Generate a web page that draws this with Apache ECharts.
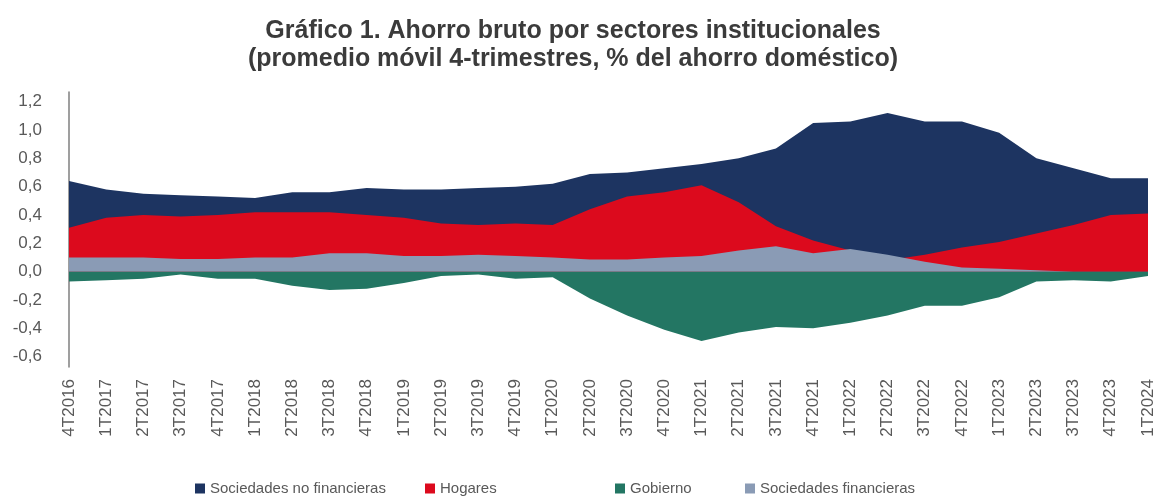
<!DOCTYPE html>
<html>
<head>
<meta charset="utf-8">
<script src="https://cdn.jsdelivr.net/npm/echarts@6/dist/echarts.min.js"></script>
<style>
  html, body { margin: 0; padding: 0; background: #fff; }
  #chart { width: 1157px; height: 498px; }
</style>
</head>
<body>
<div id="chart"></div>
<script>
// trimestres 4T2016 .. 1T2024
const quarters = ['4T2016','1T2017','2T2017','3T2017','4T2017','1T2018','2T2018','3T2018','4T2018',
  '1T2019','2T2019','3T2019','4T2019','1T2020','2T2020','3T2020','4T2020','1T2021','2T2021','3T2021',
  '4T2021','1T2022','2T2022','3T2022','4T2022','1T2023','2T2023','3T2023','4T2023','1T2024'];

const noFinancieras = [0.64,0.58,0.55,0.54,0.53,0.52,0.56,0.56,0.59,0.58,0.58,0.59,0.60,0.62,0.69,0.70,
  0.73,0.76,0.80,0.87,1.05,1.06,1.12,1.06,1.06,0.98,0.80,0.73,0.66,0.66];
const hogares = [0.31,0.38,0.40,0.39,0.40,0.42,0.42,0.42,0.40,0.38,0.34,0.33,0.34,0.33,0.44,0.53,
  0.56,0.61,0.49,0.32,0.22,0.15,0.08,0.12,0.17,0.21,0.27,0.33,0.40,0.41];
const gobierno = [-0.07,-0.06,-0.05,-0.02,-0.05,-0.05,-0.10,-0.13,-0.12,-0.08,-0.03,-0.02,-0.05,-0.04,
  -0.19,-0.31,-0.41,-0.49,-0.43,-0.39,-0.40,-0.36,-0.31,-0.24,-0.24,-0.18,-0.07,-0.06,-0.07,-0.03];
const financieras = [0.10,0.10,0.10,0.09,0.09,0.10,0.10,0.13,0.13,0.11,0.11,0.12,0.11,0.10,0.085,0.085,
  0.10,0.11,0.15,0.18,0.13,0.16,0.12,0.07,0.03,0.02,0.01,0.0,0.0,0.0];

const yTicks = [-0.6,-0.4,-0.2,0,0.2,0.4,0.6,0.8,1.0,1.2];

const colNoFin = '#1d3461';
const colHog = '#dc0a1d';
const colGob = '#237663';
const colFin = '#8a9bb5';

function area(name, data, color) {
  return {
    name: name,
    type: 'line',
    data: data,
    symbol: 'none',
    smooth: false,
    lineStyle: { width: 0 },
    itemStyle: { color: color },
    areaStyle: { color: color, opacity: 1, origin: 0 }
  };
}

const chart = echarts.init(document.getElementById('chart'));
const font = 'Liberation Sans, Arial, sans-serif';
const legendText = { color: '#595959', fontSize: 15, fontFamily: font };
function leg(name, left) {
  return {
    data: [name], left: left, top: 476, itemWidth: 10, itemHeight: 10, itemGap: 8,
    icon: 'rect', textStyle: legendText, selectedMode: false
  };
}

chart.setOption({
  animation: false,
  backgroundColor: '#fff',
  title: {
    text: 'Gráfico 1. Ahorro bruto por sectores institucionales\n(promedio móvil 4-trimestres, % del ahorro doméstico)',
    left: 568, textAlign: 'center', top: 12,
    textStyle: {
      fontFamily: font, fontWeight: 'bold', fontSize: 25, color: '#3b3b3b', lineHeight: 28
    }
  },
  legend: [
    leg('Sociedades no financieras', 190),
    leg('Hogares', 420),
    leg('Gobierno', 610),
    leg('Sociedades financieras', 740)
  ],
  grid: { left: 69, right: 9, top: 92, bottom: 131 },
  xAxis: {
    type: 'category',
    data: quarters,
    boundaryGap: false,
    axisLine: { show: false },
    axisTick: { show: false },
    axisLabel: {
      rotate: 90, interval: 0, margin: 12,
      color: '#595959', fontSize: 17, fontFamily: font
    },
    splitLine: { show: false }
  },
  yAxis: {
    type: 'value',
    min: -0.673, max: 1.268,
    axisLine: { show: true, lineStyle: { color: '#7f7f7f', width: 1.5 } },
    axisTick: { show: false },
    splitLine: { show: false },
    axisLabel: {
      customValues: yTicks,
      margin: 27, color: '#595959', fontSize: 17, fontFamily: font,
      formatter: function (v) {
        return (Math.round(v * 10) / 10).toFixed(1).replace('.', ',');
      }
    }
  },
  series: [
    area('Sociedades no financieras', noFinancieras, colNoFin),
    area('Hogares', hogares, colHog),
    area('Sociedades financieras', financieras, colFin),
    area('Gobierno', gobierno, colGob)
  ]
});
</script>
</body>
</html>
